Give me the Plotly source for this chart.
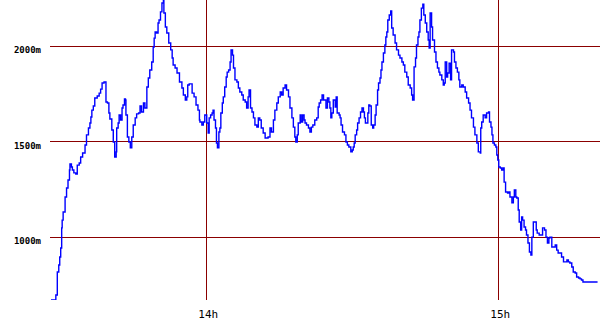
import plotly.graph_objects as go

# minutes after 13:00
minutes = [
 28.1, 28.9, 29.1, 29.4, 29.7, 29.9, 30.1, 30.3, 30.4, 30.6, 31.0, 31.3, 31.6, 31.9, 32.0, 32.3, 32.5, 32.8, 33.2, 33.5,
 33.9, 34.2, 34.6, 34.9, 35.1, 35.4, 35.8, 36.1, 36.3, 36.5, 36.8, 37.1, 37.6, 38.0, 38.3, 38.6, 39.0, 39.3, 39.4, 39.7,
 40.0, 40.2, 40.6, 40.9, 41.2, 41.5, 41.6, 41.9, 42.1, 42.4, 42.7, 42.9, 43.2, 43.4, 43.5, 43.8, 44.1, 44.4, 44.7, 45.0,
 45.4, 45.7, 46.1, 46.4, 46.7, 47.1, 47.4, 47.8, 48.1, 48.4, 48.8, 49.1, 49.3, 49.5, 49.8, 50.1, 50.3, 50.6, 50.9, 51.2,
 51.3, 51.6, 51.9, 52.3, 52.7, 53.0, 53.2, 53.6, 54.0, 54.5, 55.0, 55.3, 55.7, 56.0, 56.2, 56.5, 56.8, 57.1, 57.5, 57.9,
 58.3, 58.6,
 58.7, 59.1, 59.4, 59.7, 60.1, 60.4, 60.6, 60.9, 61.2, 61.4, 61.6, 61.9, 62.1, 62.3, 62.6, 62.8, 63.0, 63.3, 63.5, 63.8,
 64.1, 64.3, 64.6, 64.9, 65.1, 65.4, 65.6, 65.9, 66.3, 66.6, 66.9, 67.3, 67.6, 68.0, 68.3, 68.6, 68.8, 69.1, 69.4, 69.7,
 70.0, 70.4, 70.7, 71.0, 71.3, 71.7, 72.1, 72.4, 72.7, 73.1, 73.4, 73.8, 74.1, 74.5, 74.8, 75.2, 75.5, 75.8, 76.2, 76.5,
 76.9, 77.2, 77.6, 77.9, 78.2, 78.4, 78.7, 78.9, 79.3, 79.5, 79.8, 80.1, 80.3, 80.6, 81.0, 81.3, 81.6, 81.9, 82.3, 82.7,
 83.0, 83.2, 83.5, 83.8, 84.1, 84.3, 84.6, 84.9, 85.2, 85.4,
 85.6, 85.8, 86.1, 86.5, 86.7, 86.9, 87.3, 87.5, 87.7, 88.0, 88.4, 88.7, 89.0, 89.3, 89.7, 90.0, 90.2, 90.4, 90.6, 90.9,
 91.1, 91.4, 91.7, 92.0, 92.3, 92.5, 92.7, 93.0, 93.2, 93.4, 93.6, 93.9, 94.2, 94.4, 94.7, 94.9, 95.2, 95.4, 95.7, 95.9,
 96.1, 96.4, 96.7, 96.9, 97.1, 97.3, 97.6, 97.9, 98.1, 98.4, 98.8, 99.1, 99.5, 99.8, 100.2, 100.5, 100.8, 101.2, 101.5, 101.9,
 102.2, 102.4, 102.7, 103.0, 103.2, 103.5, 103.7, 103.9, 104.2, 104.5, 104.7, 105.0, 105.3, 105.6, 105.8, 106.0, 106.3, 106.5, 106.9, 107.2,
 107.5, 107.8, 108.0, 108.4, 108.7, 108.9, 109.1, 109.4, 109.6, 109.9, 110.2, 110.4, 110.8, 111.0, 111.3, 111.6, 111.9, 112.1,
 112.5, 112.8, 113.2, 113.5, 113.9, 114.2, 114.5, 114.9, 115.2, 115.6, 115.9, 116.3, 116.4, 116.6, 116.9, 117.3, 117.6, 118.0, 118.2, 118.5,
 118.7, 118.9, 119.2, 119.5, 119.7, 119.9, 120.1, 120.4, 120.7, 121.0, 121.2, 121.5, 121.9, 122.2, 122.4, 122.8, 123.1, 123.3, 123.6, 123.8,
 124.1, 124.3, 124.6, 124.8, 125.0, 125.3, 125.6, 125.8, 126.1, 126.4, 126.7, 126.9, 127.2, 127.5, 127.8, 128.0, 128.4, 128.7, 129.1, 129.5,
 129.8, 130.1, 130.4, 130.6, 131.0, 131.3, 131.7, 132.0, 132.3, 132.7, 133.0, 133.4, 133.7, 134.1, 134.4, 134.7, 135.1, 135.4, 135.8, 136.1,
 136.5, 136.8, 137.1, 137.4, 140.4,
]

# altitude in metres
altitude = [
 672, 672, 698, 818, 855, 897, 944, 1049, 1090, 1132, 1211, 1258, 1300, 1352, 1384, 1368, 1352, 1337, 1331, 1378,
 1389, 1420, 1441, 1441, 1483, 1536, 1572, 1598, 1630, 1666, 1687, 1729, 1740, 1755, 1776, 1808, 1813, 1813, 1708, 1703,
 1651, 1619, 1562, 1499, 1420, 1447, 1572, 1598, 1640, 1614, 1677, 1693, 1724, 1719, 1640, 1525, 1499, 1468, 1525, 1588,
 1625, 1646, 1651, 1687, 1656, 1703, 1677, 1787, 1834, 1876, 1918, 1996, 2043, 2075, 2070, 2122, 2138, 2180, 2227, 2242,
 2174, 2101, 2070, 2017, 1981, 1939, 1902, 1886, 1860, 1813, 1782, 1745, 1719, 1735, 1797, 1803, 1803, 1755, 1735, 1693,
 1666, 1614,
 1604, 1588, 1604, 1640, 1598, 1546, 1625, 1640, 1651, 1666, 1614, 1572, 1494, 1468, 1551, 1572, 1651, 1703, 1735, 1787,
 1839, 1865, 1876, 1918, 1981, 1954, 1886, 1824, 1813, 1782, 1761, 1745, 1719, 1708, 1677, 1735, 1771, 1677, 1656, 1625,
 1588, 1577, 1625, 1614, 1572, 1546, 1520, 1520, 1525, 1572, 1551, 1614, 1666, 1703, 1735, 1761, 1745, 1782, 1797, 1771,
 1735, 1677, 1625, 1577, 1525, 1499, 1536, 1598, 1640, 1604, 1640, 1614, 1598, 1588, 1572, 1551, 1577, 1588, 1614, 1625,
 1682, 1703, 1719, 1745, 1719, 1719, 1677, 1729, 1708, 1677,
 1625, 1651, 1719, 1682, 1735, 1651, 1640, 1625, 1588, 1551, 1536, 1499, 1483, 1473, 1447, 1457, 1473, 1494, 1536, 1562,
 1598, 1625, 1656, 1677, 1656, 1625, 1598, 1598, 1651, 1693, 1687, 1588, 1572, 1588, 1640, 1693, 1771, 1808, 1834, 1876,
 1918, 1965, 2007, 2049, 2075, 2138, 2164, 2185, 2096, 2059, 2017, 1981, 1954, 1939, 1918, 1902, 1865, 1839, 1797, 1782,
 1745, 1719, 1892, 1939, 2007, 2049, 2075, 2138, 2200, 2221, 2164, 2122, 2075, 2033, 1991, 2174, 2101, 2033, 1970, 1918,
 1886, 1865, 1850, 1824, 1797, 1808, 1918, 1839, 1860, 1912, 1824, 1981, 1970, 1918, 1886, 1865, 1824, 1787,
 1797, 1787, 1761, 1729, 1703, 1666, 1625, 1577, 1536, 1494, 1447, 1441, 1572, 1604, 1640, 1625, 1651, 1656, 1604, 1577,
 1536, 1494, 1483, 1473, 1431, 1405, 1368, 1363, 1352, 1363, 1289, 1237, 1232, 1237, 1211, 1180, 1211, 1248, 1211, 1206,
 1143, 1080, 1038, 1106, 1090, 1054, 1038, 1012, 970, 923, 907, 1001, 1080, 1080, 1038, 1022, 1012, 1012, 1049, 1038,
 1001, 970, 996, 1001, 949, 949, 960, 933, 918, 918, 897, 871, 871, 881, 871, 865, 844, 818, 813, 792,
 787, 782, 776, 766, 766,
]

y_ticks = [1000, 1500, 2000]
y_tick_labels = ["1000m", "1500m", "2000m"]
x_ticks = [60, 120]
x_tick_labels = ["14h", "15h"]

fig = go.Figure()
fig.add_trace(go.Scatter(
    x=minutes, y=altitude, mode="lines",
    line=dict(color="#0000ff", width=1.4, shape="hv"),
    hoverinfo="skip", showlegend=False,
))

grid_color = "#8b0000"
fig.update_layout(
    width=600, height=330,
    margin=dict(l=50, r=0, t=0, b=30),
    paper_bgcolor="white", plot_bgcolor="white",
    xaxis=dict(
        range=[27.9, 140.9], tickmode="array", tickvals=x_ticks, ticktext=x_tick_labels,
        showgrid=True, gridcolor=grid_color, gridwidth=1, zeroline=False, showline=False,
        ticks="", tickfont=dict(family="DejaVu Sans Mono", size=11, color="black"),
        ticklabelstandoff=6, ticklabelshift=2,
    ),
    yaxis=dict(
        range=[671.6, 2242.4], tickmode="array", tickvals=y_ticks, ticktext=y_tick_labels,
        showgrid=True, gridcolor=grid_color, gridwidth=1, zeroline=False, showline=False,
        ticks="", tickfont=dict(family="DejaVu Sans Mono", size=9, color="black", weight="bold"),
        ticklabelstandoff=8, ticklabelshift=4,
    ),
)

fig.write_html("out.html")
